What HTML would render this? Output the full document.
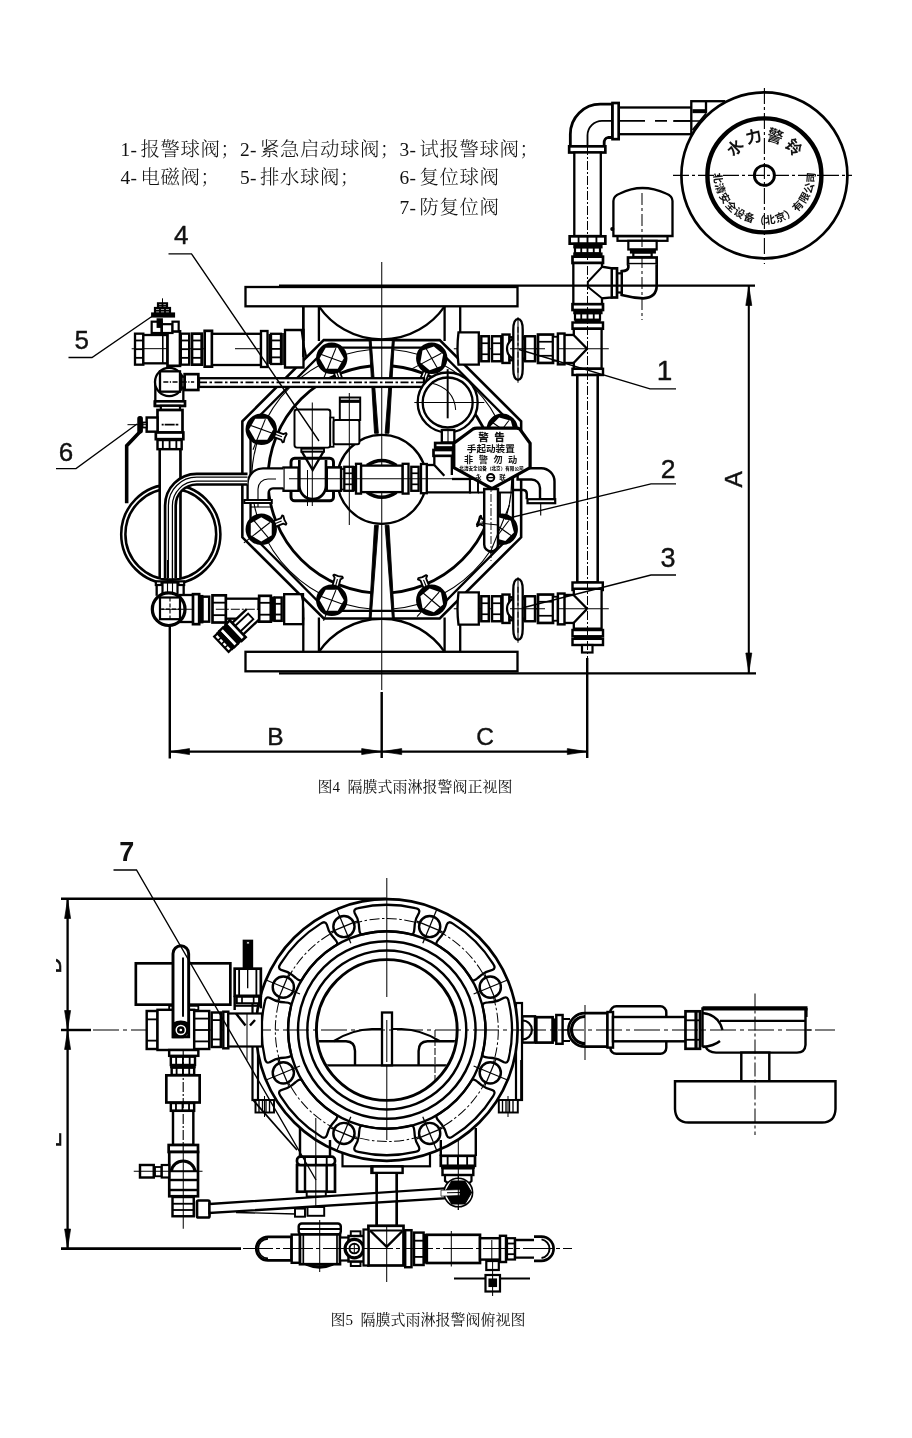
<!DOCTYPE html>
<html lang="zh-CN"><head><meta charset="utf-8"><title>隔膜式雨淋报警阀</title>
<style>html,body{margin:0;padding:0;background:#fff}body{width:912px;height:1438px;overflow:hidden}svg{display:block}</style>
</head><body>
<svg width="912" height="1438" viewBox="0 0 912 1438" fill="none" stroke="#000" stroke-linecap="butt" stroke-linejoin="miter" style="filter:grayscale(1)">
<rect x="0" y="0" width="912" height="1438" fill="#fff" stroke="none"/>
<rect x="245.5" y="287" width="272" height="19.3" stroke-width="2.32"/>
<rect x="245.5" y="651.8" width="272" height="19.5" stroke-width="2.32"/>
<line x1="303.3" y1="306.3" x2="303.3" y2="341" stroke-width="2.32"/>
<line x1="303.3" y1="617.5" x2="303.3" y2="651.8" stroke-width="2.32"/>
<line x1="318.9" y1="306.3" x2="318.9" y2="341" stroke-width="2.32"/>
<line x1="318.9" y1="617.5" x2="318.9" y2="651.8" stroke-width="2.32"/>
<line x1="444.6" y1="306.3" x2="444.6" y2="341" stroke-width="2.32"/>
<line x1="444.6" y1="617.5" x2="444.6" y2="651.8" stroke-width="2.32"/>
<line x1="460.2" y1="306.3" x2="460.2" y2="341" stroke-width="2.32"/>
<line x1="460.2" y1="617.5" x2="460.2" y2="651.8" stroke-width="2.32"/>
<path d="M318.9 306.3 A76.3 76.3 0 0 0 444.6 306.3" stroke-width="2.32"/>
<path d="M318.9 651.8 A76.3 76.3 0 0 1 444.6 651.8" stroke-width="2.32"/>
<polygon points="323.75,340.1 439.75,340.1 521.15,421.3 521.15,537.3 439.75,618.5 323.75,618.5 242.35,537.3 242.35,421.3" stroke-width="2.56" fill="#fff"/>
<circle cx="381.75" cy="479.3" r="130" stroke-width="1.12"/>
<circle cx="381.75" cy="479.3" r="113.8" stroke-width="2.81"/>
<polygon points="369.35,341.3 394.15,341.3 386.75,434.3 376.75,434.3" stroke-width="0" fill="#fff"/>
<polygon points="369.35,617.3 394.15,617.3 386.75,524.3 376.75,524.3" stroke-width="0" fill="#fff"/>
<polygon points="327.35,347.7 436.15,347.7 512.95,424.9 512.95,533.7 436.15,610.9 327.35,610.9 250.55,533.7 250.55,424.9" stroke-width="2.32"/>
<polygon points="369.15,340.3 371.15,340.3 378.35,433.3 374.55,433.3" stroke-width="0.9" fill="#000" stroke-linejoin="round"/>
<polygon points="394.35,340.3 392.35,340.3 385.15,433.3 388.95,433.3" stroke-width="0.9" fill="#000" stroke-linejoin="round"/>
<polygon points="369.15,618.3 371.15,618.3 378.35,525.3 374.55,525.3" stroke-width="0.9" fill="#000" stroke-linejoin="round"/>
<polygon points="394.35,618.3 392.35,618.3 385.15,525.3 388.95,525.3" stroke-width="0.9" fill="#000" stroke-linejoin="round"/>
<circle cx="381.75" cy="479.3" r="44.5" stroke-width="2.32" fill="#fff"/>
<polygon points="338.67,368.55 342.26,378.42 344.83,379.61 344.42,380.83 340.3,381.79 336.52,383.7 335.43,383.03 336.63,380.47 333.04,370.6" stroke-width="1.83" fill="#fff" stroke-linejoin="round"/>
<line x1="336.54" y1="371.46" x2="339.27" y2="378.97" stroke-width="1.12"/>
<circle cx="331.75" cy="358.3" r="14.6" stroke-width="2.2" fill="#000"/>
<polygon points="343.85,358.3 337.8,368.78 325.7,368.78 319.65,358.3 325.7,347.82 337.8,347.82" stroke-width="0" fill="#fff" stroke-linejoin="round"/>
<line x1="318.59" y1="353.51" x2="344.91" y2="363.09" stroke-width="1.12"/>
<line x1="335.87" y1="348.1" x2="323.51" y2="378.7" stroke-width="1.12"/>
<polygon points="430.04,370.55 426.1,380.29 427.21,382.89 426.09,383.52 422.38,381.48 418.3,380.37 417.94,379.14 420.54,378.04 424.47,368.3" stroke-width="1.83" fill="#fff" stroke-linejoin="round"/>
<line x1="426.51" y1="371.28" x2="423.51" y2="378.7" stroke-width="1.12"/>
<circle cx="431.75" cy="358.3" r="14.6" stroke-width="2.2" fill="#000"/>
<polygon points="441.02,366.08 429.65,370.22 420.38,362.44 422.48,350.52 433.85,346.38 443.12,354.16" stroke-width="0" fill="#fff" stroke-linejoin="round"/>
<line x1="424.75" y1="346.18" x2="438.75" y2="370.42" stroke-width="1.12"/>
<line x1="441.46" y1="353.14" x2="412.33" y2="368.63" stroke-width="1.12"/>
<polygon points="273.55,430.59 283.42,434.18 285.98,432.98 286.65,434.07 284.74,437.85 283.78,441.97 282.56,442.38 281.37,439.81 271.5,436.22" stroke-width="1.83" fill="#fff" stroke-linejoin="round"/>
<line x1="274.41" y1="434.09" x2="281.92" y2="436.82" stroke-width="1.12"/>
<circle cx="261.25" cy="429.3" r="14.6" stroke-width="2.2" fill="#000"/>
<polygon points="273.35,429.3 267.3,439.78 255.2,439.78 249.15,429.3 255.2,418.82 267.3,418.82" stroke-width="0" fill="#fff" stroke-linejoin="round"/>
<line x1="248.09" y1="424.51" x2="274.41" y2="434.09" stroke-width="1.12"/>
<line x1="265.37" y1="419.1" x2="253.01" y2="449.7" stroke-width="1.12"/>
<polygon points="271.25,522.02 280.99,518.09 282.09,515.49 283.32,515.85 284.43,519.93 286.47,523.64 285.84,524.76 283.24,523.65 273.5,527.59" stroke-width="1.83" fill="#fff" stroke-linejoin="round"/>
<line x1="274.23" y1="524.06" x2="281.65" y2="521.06" stroke-width="1.12"/>
<circle cx="261.25" cy="529.3" r="14.6" stroke-width="2.2" fill="#000"/>
<polygon points="271.73,535.35 261.25,541.4 250.77,535.35 250.77,523.25 261.25,517.2 271.73,523.25" stroke-width="0" fill="#fff" stroke-linejoin="round"/>
<line x1="252.25" y1="518.58" x2="270.25" y2="540.02" stroke-width="1.12"/>
<line x1="269.92" y1="522.53" x2="243.91" y2="542.84" stroke-width="1.12"/>
<polygon points="331.96,587.93 334.68,577.79 333.26,575.34 334.29,574.58 338.22,576.15 342.41,576.76 342.92,577.93 340.47,579.34 337.75,589.49" stroke-width="1.83" fill="#fff" stroke-linejoin="round"/>
<line x1="335.37" y1="586.78" x2="337.44" y2="579.05" stroke-width="1.12"/>
<circle cx="331.75" cy="600.3" r="14.6" stroke-width="2.2" fill="#000"/>
<polygon points="343.85,600.3 337.8,610.78 325.7,610.78 319.65,600.3 325.7,589.82 337.8,589.82" stroke-width="0" fill="#fff" stroke-linejoin="round"/>
<line x1="318.59" y1="595.51" x2="344.91" y2="605.09" stroke-width="1.12"/>
<line x1="335.87" y1="590.1" x2="323.51" y2="620.7" stroke-width="1.12"/>
<polygon points="424.47,590.3 420.54,580.56 417.94,579.46 418.3,578.23 422.38,577.12 426.09,575.08 427.21,575.71 426.1,578.31 430.04,588.05" stroke-width="1.83" fill="#fff" stroke-linejoin="round"/>
<line x1="426.51" y1="587.32" x2="423.51" y2="579.9" stroke-width="1.12"/>
<circle cx="431.75" cy="600.3" r="14.6" stroke-width="2.2" fill="#000"/>
<polygon points="443.12,604.44 433.85,612.22 422.48,608.08 420.38,596.16 429.65,588.38 441.02,592.52" stroke-width="0" fill="#fff" stroke-linejoin="round"/>
<line x1="421.03" y1="591.3" x2="442.47" y2="609.3" stroke-width="1.12"/>
<line x1="439.11" y1="592.13" x2="417.03" y2="616.65" stroke-width="1.12"/>
<polygon points="489.95,528.01 480.08,524.42 477.52,525.62 476.85,524.53 478.76,520.75 479.72,516.63 480.94,516.22 482.13,518.79 492,522.38" stroke-width="1.83" fill="#fff" stroke-linejoin="round"/>
<line x1="489.09" y1="524.51" x2="481.58" y2="521.78" stroke-width="1.12"/>
<circle cx="502.25" cy="529.3" r="14.6" stroke-width="2.2" fill="#000"/>
<polygon points="513.94,532.43 505.38,540.99 493.69,537.86 490.56,526.17 499.12,517.61 510.81,520.74" stroke-width="0" fill="#fff" stroke-linejoin="round"/>
<line x1="490.78" y1="521.27" x2="513.72" y2="537.33" stroke-width="1.12"/>
<line x1="508.87" y1="520.52" x2="489.01" y2="546.87" stroke-width="1.12"/>
<polygon points="492,436.22 482.13,439.81 480.94,442.38 479.72,441.97 478.76,437.85 476.85,434.07 477.52,432.98 480.08,434.18 489.95,430.59" stroke-width="1.83" fill="#fff" stroke-linejoin="round"/>
<line x1="489.09" y1="434.09" x2="481.58" y2="436.82" stroke-width="1.12"/>
<circle cx="502.25" cy="429.3" r="14.6" stroke-width="2.2" fill="#000"/>
<polygon points="513.94,432.43 505.38,440.99 493.69,437.86 490.56,426.17 499.12,417.61 510.81,420.74" stroke-width="0" fill="#fff" stroke-linejoin="round"/>
<line x1="490.78" y1="421.27" x2="513.72" y2="437.33" stroke-width="1.12"/>
<line x1="508.87" y1="420.52" x2="489.01" y2="446.87" stroke-width="1.12"/>
<line x1="381.75" y1="262" x2="381.75" y2="690" stroke-width="1.01"/>
<rect x="199" y="378.2" width="225" height="8.7" stroke-width="2.32" fill="#fff"/>
<line x1="199" y1="382.3" x2="424" y2="382.3" stroke-width="1.83" stroke-dasharray="8 2.5 2.5 2.5"/>
<circle cx="447.67" cy="402.5" r="30" stroke-width="2.32" fill="#fff"/>
<circle cx="447.67" cy="402.5" r="25" stroke-width="2.32"/>
<line x1="414.33" y1="402.5" x2="484.33" y2="402.5" stroke-width="1.12"/>
<line x1="447.67" y1="369.17" x2="447.67" y2="418.33" stroke-width="1.95"/>
<path d="M431 383 Q454.33 388.33 455.67 410" stroke-width="1.01"/>
<rect x="441.83" y="430" width="12.5" height="12.5" stroke-width="2.32" fill="#fff"/>
<line x1="448" y1="430" x2="448" y2="442.5" stroke-width="1.12"/>
<rect x="435.17" y="443" width="20.83" height="4.5" stroke-width="2.68" fill="#fff"/>
<rect x="433.5" y="450" width="19.5" height="5.83" stroke-width="2.68" fill="#fff"/>
<line x1="434.33" y1="448.67" x2="454.33" y2="448.67" stroke-width="2.93"/>
<polyline points="434.33,455.83 434.33,465 444.33,475.83" stroke-width="2.32"/>
<line x1="451.83" y1="455.83" x2="451.83" y2="475" stroke-width="2.32"/>
<path d="M367 465.5 Q381.75 455.5 396.5 465.5" stroke-width="3.46"/>
<path d="M367 492.2 Q381.75 502.2 396.5 492.2" stroke-width="3.46"/>
<rect x="361" y="465.6" width="41.7" height="26.5" stroke-width="2.32" fill="#fff"/>
<rect x="356" y="463.8" width="5" height="29.8" stroke-width="2.32" fill="#fff"/>
<rect x="402.7" y="463.8" width="5.8" height="29.8" stroke-width="2.32" fill="#fff"/>
<rect x="344.3" y="466.8" width="8.5" height="24" stroke-width="2.32" fill="#fff"/>
<line x1="344.3" y1="473.28" x2="352.8" y2="473.28" stroke-width="1.71"/>
<line x1="344.3" y1="484.32" x2="352.8" y2="484.32" stroke-width="1.71"/>
<line x1="354.5" y1="466" x2="354.5" y2="491.5" stroke-width="2.44"/>
<rect x="411.3" y="466.8" width="7.3" height="24" stroke-width="2.32" fill="#fff"/>
<line x1="411.3" y1="473.28" x2="418.6" y2="473.28" stroke-width="1.71"/>
<line x1="411.3" y1="484.32" x2="418.6" y2="484.32" stroke-width="1.71"/>
<rect x="421" y="464" width="5.8" height="29.2" stroke-width="2.32" fill="#fff"/>
<polyline points="426.8,465 434.3,465" stroke-width="2.32"/>
<polyline points="426.8,492.4 470,492.4 470,479" stroke-width="2.32"/>
<line x1="452" y1="479" x2="470" y2="479" stroke-width="2.32"/>
<rect x="326.8" y="467.5" width="14.2" height="23.3" stroke-width="2.32" fill="#fff"/>
<line x1="341" y1="469" x2="344.3" y2="469" stroke-width="1.71"/>
<line x1="341" y1="489.5" x2="344.3" y2="489.5" stroke-width="1.71"/>
<rect x="291" y="458.33" width="42.5" height="42.5" stroke-width="2.93" rx="3.67"/>
<path d="M299.33 460 L299.33 485.83 A13.33 13.33 0 0 0 326 485.83 L326 460" stroke-width="2.68"/>
<rect x="283.5" y="467.5" width="15" height="23.33" stroke-width="2.32" fill="#fff"/>
<rect x="326.83" y="467.5" width="14.17" height="23.33" stroke-width="2.32" fill="#fff"/>
<polyline points="301.83,451.67 312.67,470 323.5,451.67" stroke-width="2.32"/>
<rect x="301.33" y="448.67" width="22.67" height="3" stroke-width="1.95" fill="#fff"/>
<rect x="294.5" y="409.5" width="35.8" height="38.1" stroke-width="1.95" rx="2.5" fill="#fff"/>
<rect x="330.3" y="417.5" width="3.3" height="29.3" stroke-width="1.71" fill="#fff"/>
<rect x="333.6" y="420" width="25.8" height="24.2" stroke-width="1.95" rx="2" fill="#fff"/>
<rect x="339.8" y="397.5" width="20.4" height="22.5" stroke-width="1.95" fill="#fff"/>
<line x1="339.8" y1="401.3" x2="360.2" y2="401.3" stroke-width="3.17"/>
<line x1="312.3" y1="402.5" x2="312.3" y2="506" stroke-width="1.01"/>
<line x1="349.3" y1="393" x2="349.3" y2="525" stroke-width="1.01"/>
<line x1="307.5" y1="470" x2="307.5" y2="506" stroke-width="1.01"/>
<line x1="289" y1="478.8" x2="452" y2="478.8" stroke-width="1.01"/>
<path d="M283.5 468.3 L263 468.3 A15.5 15.5 0 0 0 247.6 484 L247.6 500 L268.6 500 L268.6 493 A4.5 4.5 0 0 1 273 488.3 L283.5 488.3 Z" stroke-width="0" fill="#fff"/>
<path d="M283.5 468.3 L263 468.3 A15.5 15.5 0 0 0 247.6 484 L247.6 500" stroke-width="2.32"/>
<path d="M283.5 488.3 L273 488.3 A4.5 4.5 0 0 0 268.6 493 L268.6 500" stroke-width="2.32"/>
<path d="M276 479 L268 479 A10 10 0 0 0 258 489 L258 507" stroke-width="1.12"/>
<rect x="244.3" y="500" width="27.5" height="3" stroke-width="1.95" fill="#fff"/>
<line x1="251" y1="507" x2="271" y2="507" stroke-width="1.12"/>
<line x1="131.67" y1="348.67" x2="206.67" y2="348.67" stroke-width="1.01"/>
<rect x="135" y="333.67" width="8.33" height="31" stroke-width="2.32" fill="#fff"/>
<line x1="135" y1="340.49" x2="143.33" y2="340.49" stroke-width="1.83"/>
<line x1="135" y1="349.17" x2="143.33" y2="349.17" stroke-width="1.83"/>
<line x1="135" y1="357.85" x2="143.33" y2="357.85" stroke-width="1.83"/>
<rect x="143.33" y="335" width="24.17" height="28.33" stroke-width="2.32" fill="#fff"/>
<line x1="163" y1="335" x2="163" y2="363.33" stroke-width="1.12"/>
<line x1="143.33" y1="348.67" x2="167.5" y2="348.67" stroke-width="1.01"/>
<rect x="180.83" y="333.67" width="8.33" height="31" stroke-width="2.32" fill="#fff"/>
<line x1="180.83" y1="340.49" x2="189.17" y2="340.49" stroke-width="1.83"/>
<line x1="180.83" y1="349.17" x2="189.17" y2="349.17" stroke-width="1.83"/>
<line x1="180.83" y1="357.85" x2="189.17" y2="357.85" stroke-width="1.83"/>
<rect x="167.5" y="331.33" width="12.5" height="34.5" stroke-width="2.68" fill="#fff"/>
<rect x="192" y="333.67" width="9.67" height="31" stroke-width="2.68" fill="#fff"/>
<line x1="192" y1="340.49" x2="201.67" y2="340.49" stroke-width="1.83"/>
<line x1="192" y1="349.17" x2="201.67" y2="349.17" stroke-width="1.83"/>
<line x1="192" y1="357.85" x2="201.67" y2="357.85" stroke-width="1.83"/>
<rect x="204.67" y="330.83" width="7.33" height="35.83" stroke-width="2.68" fill="#fff"/>
<rect x="212" y="333.8" width="49" height="31.2" stroke-width="2.32" fill="#fff"/>
<line x1="235" y1="348.7" x2="262" y2="348.7" stroke-width="1.01"/>
<rect x="261" y="331" width="6.5" height="36" stroke-width="2.32" fill="#fff"/>
<rect x="271" y="333.8" width="10" height="30.2" stroke-width="2.32" fill="#fff"/>
<line x1="271" y1="340.44" x2="281" y2="340.44" stroke-width="1.83"/>
<line x1="271" y1="348.9" x2="281" y2="348.9" stroke-width="1.83"/>
<line x1="271" y1="357.36" x2="281" y2="357.36" stroke-width="1.83"/>
<line x1="269.5" y1="334" x2="269.5" y2="364" stroke-width="1.95"/>
<path d="M285 330 L303.5 330 L303.5 367.5 L285 367.5 Z" stroke-width="2.32" fill="#fff"/>
<path d="M301.5 330 Q303 345 306.5 358" stroke-width="1.95"/>
<line x1="303.3" y1="306.3" x2="303.3" y2="357" stroke-width="2.32"/>
<line x1="283" y1="333" x2="283" y2="365" stroke-width="1.71"/>
<rect x="151.67" y="321.67" width="10" height="11.33" stroke-width="2.2" fill="#fff"/>
<rect x="161.67" y="324.17" width="10.83" height="8.83" stroke-width="2.2" fill="#fff"/>
<rect x="172.5" y="321.67" width="6.17" height="9.67" stroke-width="2.2" fill="#fff"/>
<rect x="157.5" y="319.17" width="4.5" height="7.83" stroke-width="1.83" fill="#000"/>
<rect x="152" y="313.33" width="22.17" height="3.33" stroke-width="1.83" fill="#000"/>
<rect x="155" y="308" width="15" height="5.33" stroke-width="2.2" fill="#fff"/>
<line x1="155" y1="310.67" x2="170" y2="310.67" stroke-width="1.83"/>
<line x1="160" y1="308" x2="160" y2="313.33" stroke-width="1.83"/>
<line x1="165" y1="308" x2="165" y2="313.33" stroke-width="1.83"/>
<rect x="158" y="303.33" width="9" height="4.67" stroke-width="2.2" fill="#fff"/>
<line x1="162.5" y1="303.33" x2="162.5" y2="308" stroke-width="1.83"/>
<line x1="158" y1="305.83" x2="167" y2="305.83" stroke-width="1.59"/>
<line x1="162.5" y1="298.33" x2="162.5" y2="303.67" stroke-width="1.01"/>
<line x1="162.5" y1="327.5" x2="162.5" y2="363.33" stroke-width="1.01"/>
<path d="M155.33 402 L155.33 383.33 L160 373.33" stroke-width="2.32"/>
<path d="M183.33 402 L183.33 383.33" stroke-width="2.32"/>
<circle cx="169.17" cy="382" r="14.17" stroke-width="2.32" fill="#fff"/>
<rect x="160" y="371.33" width="20" height="20.33" stroke-width="2.32" fill="#fff"/>
<rect x="181.67" y="376.67" width="3" height="10.83" stroke-width="2.2" fill="#fff"/>
<rect x="184.67" y="374.17" width="13.67" height="15.83" stroke-width="2.68" fill="#fff"/>
<line x1="163.33" y1="382" x2="194.17" y2="382" stroke-width="1.59" stroke-dasharray="5 1.5 1.2 1.5"/>
<rect x="155" y="402" width="29.67" height="3.83" stroke-width="2.68" fill="#fff"/>
<rect x="155" y="401.33" width="30" height="4.5" stroke-width="2.68" fill="#fff"/>
<rect x="160.83" y="405.83" width="19.17" height="4.17" stroke-width="2.2" fill="#fff"/>
<rect x="157.5" y="410" width="25" height="22.5" stroke-width="2.68" fill="#fff"/>
<rect x="155.83" y="432.5" width="27.5" height="6.67" stroke-width="2.68" fill="#fff"/>
<rect x="157.5" y="440" width="24.17" height="9.17" stroke-width="2.44" fill="#fff"/>
<line x1="162.82" y1="440" x2="162.82" y2="449.17" stroke-width="1.83"/>
<line x1="169.58" y1="440" x2="169.58" y2="449.17" stroke-width="1.83"/>
<line x1="176.35" y1="440" x2="176.35" y2="449.17" stroke-width="1.83"/>
<rect x="146.67" y="417.5" width="10.83" height="14.17" stroke-width="2.44" fill="#fff"/>
<rect x="142.5" y="422.5" width="4.17" height="5" stroke-width="1.83" fill="#fff"/>
<line x1="127.5" y1="424.67" x2="147" y2="424.67" stroke-width="1.01"/>
<line x1="161.67" y1="424.67" x2="178.33" y2="424.67" stroke-width="1.71" stroke-dasharray="2 1 8 0"/>
<rect x="138.17" y="417" width="3.83" height="15.5" stroke-width="1.83" rx="1.67" fill="#000"/>
<polyline points="140,431.67 126.67,445.83 126.67,503.33" stroke-width="3.56"/>
<line x1="159.8" y1="449" x2="159.8" y2="578" stroke-width="2.32"/>
<line x1="180.4" y1="449" x2="180.4" y2="578" stroke-width="2.32"/>
<circle cx="170.8" cy="534.2" r="49.6" stroke-width="2.56"/>
<circle cx="170.8" cy="534.2" r="45.4" stroke-width="2.56"/>
<rect x="160.8" y="452" width="18.6" height="126" stroke-width="0" fill="#fff"/>
<line x1="159.8" y1="449" x2="159.8" y2="578" stroke-width="2.32"/>
<line x1="180.4" y1="449" x2="180.4" y2="578" stroke-width="2.32"/>
<path d="M165.3 578 L165.3 505.5 A31.4 31.4 0 0 1 196.7 474.1 L247.5 474.1 L247.5 484.5 L196.7 484.5 A21 21 0 0 0 175.7 505.5 L175.7 578 Z" stroke-width="0" fill="#fff"/>
<path d="M165.1 578 L165.1 505.5 A31.6 31.6 0 0 1 196.7 473.9 L247.5 473.9" stroke-width="2.68"/>
<path d="M175.7 578 L175.7 505.5 A21 21 0 0 1 196.7 484.5 L247.5 484.5" stroke-width="2.68"/>
<path d="M168.4 578 L168.4 505.5 A28.3 28.3 0 0 1 196.7 477.2 L247.5 477.2" stroke-width="1.23"/>
<path d="M172.4 578 L172.4 505.5 A24.3 24.3 0 0 1 196.7 481.2 L247.5 481.2" stroke-width="1.23"/>
<rect x="155.83" y="581.33" width="28.33" height="3.67" stroke-width="2.2" fill="#fff"/>
<line x1="161.33" y1="581.33" x2="161.33" y2="585" stroke-width="1.83"/>
<line x1="178.67" y1="581.33" x2="178.67" y2="585" stroke-width="1.83"/>
<line x1="156.67" y1="585" x2="156.67" y2="595.83" stroke-width="2.32"/>
<line x1="183.67" y1="585" x2="183.67" y2="595.83" stroke-width="2.32"/>
<rect x="162.5" y="582.5" width="15" height="11.67" stroke-width="2.2" fill="#fff"/>
<line x1="167.5" y1="560" x2="167.5" y2="594.17" stroke-width="1.12"/>
<line x1="172.5" y1="560" x2="172.5" y2="594.17" stroke-width="1.12"/>
<rect x="180" y="595" width="13.33" height="27" stroke-width="2.32" fill="#fff"/>
<circle cx="168.67" cy="609.17" r="16.33" stroke-width="3.24" fill="#fff"/>
<rect x="160" y="597.5" width="20" height="21.67" stroke-width="2.2" fill="#fff"/>
<line x1="160" y1="609.17" x2="180" y2="609.17" stroke-width="1.12" stroke-dasharray="4 2"/>
<line x1="170" y1="597.5" x2="170" y2="619.17" stroke-width="1.12" stroke-dasharray="4 2"/>
<line x1="161.67" y1="609.17" x2="195" y2="609.17" stroke-width="1.01"/>
<rect x="193" y="594.17" width="6.17" height="30" stroke-width="2.68" fill="#fff"/>
<rect x="199.17" y="595.83" width="3.33" height="26.67" stroke-width="1.83" fill="#000"/>
<rect x="202.5" y="596.67" width="6.67" height="25" stroke-width="2.44" fill="#fff"/>
<rect x="225.83" y="598.67" width="32.83" height="20" stroke-width="2.32" fill="#fff"/>
<g transform="translate(258 609.5) rotate(136.5)">
<polyline points="-8,-8 30,-8 30,8 8,8" stroke-width="2.32" fill="#fff"/>
<rect x="10" y="-3.8" width="20" height="7.6" stroke-width="1.83" fill="#fff"/>
<rect x="28" y="-11.5" width="5.5" height="23" stroke-width="2.68" fill="#fff"/>
<rect x="33.5" y="-11" width="4.5" height="22" stroke-width="1.83" fill="#000"/>
<rect x="38" y="-11" width="5" height="22" stroke-width="2.2" fill="#fff"/>
<rect x="43" y="-11" width="3" height="22" stroke-width="1.83" fill="#000"/>
<rect x="46" y="-10.5" width="4.5" height="21" stroke-width="2.2" fill="#fff"/>
<line x1="46" y1="-5" x2="50.5" y2="-5" stroke-width="1.59"/>
<line x1="46" y1="0" x2="50.5" y2="0" stroke-width="1.59"/>
<line x1="46" y1="5" x2="50.5" y2="5" stroke-width="1.59"/>
</g>
<rect x="212.5" y="595.33" width="13.33" height="27.17" stroke-width="2.68" fill="#fff"/>
<line x1="212.5" y1="602.67" x2="225.83" y2="602.67" stroke-width="1.83"/>
<line x1="212.5" y1="615.16" x2="225.83" y2="615.16" stroke-width="1.83"/>
<line x1="215.83" y1="609.17" x2="260" y2="609.17" stroke-width="1.01" stroke-dasharray="9 2 2 2"/>
<rect x="259.17" y="595.83" width="11.67" height="25.83" stroke-width="2.68" fill="#fff"/>
<line x1="259.17" y1="602.81" x2="270.83" y2="602.81" stroke-width="1.83"/>
<line x1="259.17" y1="614.69" x2="270.83" y2="614.69" stroke-width="1.83"/>
<rect x="270.83" y="597.5" width="3.33" height="23.33" stroke-width="1.83" fill="#000"/>
<rect x="274.67" y="597.5" width="7" height="23.33" stroke-width="2.44" fill="#fff"/>
<line x1="274.67" y1="603.8" x2="281.67" y2="603.8" stroke-width="1.83"/>
<line x1="274.67" y1="614.53" x2="281.67" y2="614.53" stroke-width="1.83"/>
<rect x="284.17" y="594.17" width="18.83" height="30" stroke-width="2.32" fill="#fff"/>
<path d="M301 594.2 Q305.5 609 303 624.2" stroke-width="1.34"/>
<rect x="618.7" y="107.5" width="81.3" height="26.7" stroke-width="2.32" fill="#fff"/>
<line x1="620" y1="120.8" x2="705" y2="120.8" stroke-width="1.83" stroke-dasharray="25 10 12 7"/>
<rect x="691.3" y="101.2" width="32.7" height="33.1" stroke-width="2.32" fill="#fff"/>
<line x1="706" y1="101.2" x2="706" y2="113.5" stroke-width="2.32"/>
<rect x="693" y="109.8" width="12" height="2.8" stroke-width="1.12" fill="#000"/>
<line x1="706" y1="113.5" x2="692.5" y2="130" stroke-width="1.83"/>
<line x1="673" y1="121" x2="715.5" y2="121" stroke-width="1.34"/>
<circle cx="764.4" cy="175.4" r="83" stroke-width="2.68" fill="#fff"/>
<circle cx="764.4" cy="175.4" r="57" stroke-width="4.43"/>
<circle cx="764.4" cy="175.4" r="10" stroke-width="2.93"/>
<line x1="673" y1="175.4" x2="852" y2="175.4" stroke-width="1.12" stroke-dasharray="16 3 3 3"/>
<line x1="764.4" y1="88" x2="764.4" y2="264" stroke-width="1.12" stroke-dasharray="16 3 3 3"/>
<path id="bellTop" d="M 729.8 175.4 A 34.6 34.6 0 0 1 799 175.4" stroke="none"/>
<path id="bellBot" d="M 713.8 173.4 A 50.6 50.6 0 0 0 815 173.4" stroke="none"/>
<text font-family="&quot;Liberation Sans&quot;, &quot;Noto Sans CJK SC&quot;, sans-serif" font-size="16" font-weight="700" fill="#111" stroke="none" text-anchor="middle" letter-spacing="2.6"><textPath href="#bellTop" startOffset="51%">水力警铃</textPath></text>
<text font-family="&quot;Liberation Sans&quot;, &quot;Noto Sans CJK SC&quot;, sans-serif" font-size="10.6" font-weight="700" fill="#111" stroke="none" text-anchor="middle" letter-spacing="0.85"><textPath href="#bellBot" startOffset="50.5%">北清安全设备（北京）有限公司</textPath></text>
<path d="M570.33 146.67 L570.33 134.17 A30 30 0 0 1 600.33 104.17 L612.5 104.17 L612.5 137.5 L608 137.5 Q604.17 138.33 604.17 143 L604.17 146.67 Z" stroke-width="2.81" fill="#fff"/>
<path d="M612.5 120.83 L602 120.83 A14.5 14.5 0 0 0 587.5 135.33 L587.5 146.67" stroke-width="1.83"/>
<rect x="612.5" y="103" width="6.17" height="36.17" stroke-width="2.68" fill="#fff"/>
<rect x="569.17" y="146.33" width="36.17" height="6.17" stroke-width="2.68" fill="#fff"/>
<rect x="574.3" y="152.5" width="26.5" height="83.5" stroke-width="2.32" fill="#fff"/>
<line x1="587.5" y1="146" x2="587.5" y2="236" stroke-width="1.01" stroke-dasharray="9 2 2 2"/>
<path d="M613.4 236 L613.4 201 Q613.4 196 620 193.5 Q642 182.5 666 193.5 Q672.5 196 672.5 201 L672.5 236 Z" stroke-width="2.32" fill="#fff"/>
<circle cx="612.3" cy="229" r="1.5" stroke-width="1.12" fill="#000"/>
<rect x="617.5" y="236.33" width="50" height="4.5" stroke-width="2.2" fill="#fff"/>
<rect x="628.33" y="240.83" width="28.33" height="8.67" stroke-width="2.2" fill="#fff"/>
<rect x="630.83" y="249.5" width="24.17" height="3.17" stroke-width="1.83" fill="#000"/>
<rect x="633.33" y="252.67" width="18.33" height="4.33" stroke-width="2.2" fill="#fff"/>
<rect x="628" y="257.5" width="28.67" height="6.67" stroke-width="2.68" fill="#fff"/>
<path d="M628.33 264.17 L628.33 267.5 Q628 270.83 621.67 271.17 L621.67 295 Q633.33 298 643.33 298.33 Q656.67 297.5 656.67 285.83 L656.67 264.17" stroke-width="2.68" fill="#fff"/>
<rect x="617" y="273.33" width="4.67" height="19.17" stroke-width="2.2" fill="#fff"/>
<rect x="611.67" y="268.33" width="5.33" height="29.17" stroke-width="2.68" fill="#fff"/>
<line x1="642" y1="193" x2="642" y2="320" stroke-width="1.01" stroke-dasharray="12 3 3 3"/>
<rect x="569.67" y="236.33" width="35.67" height="7.33" stroke-width="2.68" fill="#fff"/>
<line x1="578.58" y1="236.33" x2="578.58" y2="243.67" stroke-width="1.83"/>
<line x1="587.5" y1="236.33" x2="587.5" y2="243.67" stroke-width="1.83"/>
<line x1="596.42" y1="236.33" x2="596.42" y2="243.67" stroke-width="1.83"/>
<rect x="574.17" y="243.67" width="27.5" height="3.83" stroke-width="1.83" fill="#000"/>
<rect x="575" y="247.5" width="25" height="5.83" stroke-width="2.2" fill="#fff"/>
<line x1="581.25" y1="247.5" x2="581.25" y2="253.33" stroke-width="1.83"/>
<line x1="587.5" y1="247.5" x2="587.5" y2="253.33" stroke-width="1.83"/>
<line x1="593.75" y1="247.5" x2="593.75" y2="253.33" stroke-width="1.83"/>
<rect x="574.17" y="253.33" width="27.5" height="3.33" stroke-width="1.83" fill="#000"/>
<rect x="572.5" y="256.67" width="30.5" height="6.33" stroke-width="2.68" fill="#fff"/>
<path d="M573.33 263 L573.33 304.17 L602 304.17 L602 298.33 L611.67 297.5 L611.67 268.33 L602 266.67 L602 263 Z" stroke-width="2.32" fill="#fff"/>
<polyline points="602,267 587.83,282 587.83,286.67 602,298.33" stroke-width="1.95"/>
<rect x="572.5" y="304.17" width="30.5" height="5.83" stroke-width="2.68" fill="#fff"/>
<rect x="574.17" y="310" width="27.5" height="3.33" stroke-width="1.83" fill="#000"/>
<rect x="575" y="313.33" width="25" height="6.33" stroke-width="2.2" fill="#fff"/>
<line x1="581.25" y1="313.33" x2="581.25" y2="319.67" stroke-width="1.83"/>
<line x1="587.5" y1="313.33" x2="587.5" y2="319.67" stroke-width="1.83"/>
<line x1="593.75" y1="313.33" x2="593.75" y2="319.67" stroke-width="1.83"/>
<rect x="575.5" y="320" width="24.5" height="2.5" stroke-width="1.12" fill="#000"/>
<rect x="572.5" y="322.5" width="30.5" height="6.3" stroke-width="2.44" fill="#fff"/>
<path d="M573.8 334.95 L573.8 328.75 L601.6 328.75 L601.6 368.75 L573.8 368.75 L573.8 362.95" stroke-width="2.32" fill="#fff"/>
<rect x="564.2" y="334.95" width="9.8" height="28" stroke-width="0" fill="#fff"/>
<line x1="564.2" y1="334.95" x2="574.5" y2="334.95" stroke-width="2.32"/>
<line x1="564.2" y1="362.95" x2="574.5" y2="362.95" stroke-width="2.32"/>
<polyline points="573.6,334.95 586.4,347.95 586.4,349.55 573.6,362.95" stroke-width="2.32"/>
<rect x="557.9" y="333.55" width="6.6" height="30.8" stroke-width="2.44" fill="#fff"/>
<rect x="572.5" y="368.8" width="30.5" height="6.2" stroke-width="2.44" fill="#fff"/>
<rect x="577.3" y="375" width="20.4" height="207.5" stroke-width="2.56" fill="#fff"/>
<rect x="572.5" y="582.5" width="30.3" height="7.5" stroke-width="2.44" fill="#fff"/>
<path d="M573.8 594.95 L573.8 588.75 L601.6 588.75 L601.6 628.75 L573.8 628.75 L573.8 622.95" stroke-width="2.32" fill="#fff"/>
<rect x="564.2" y="594.95" width="9.8" height="28" stroke-width="0" fill="#fff"/>
<line x1="564.2" y1="594.95" x2="574.5" y2="594.95" stroke-width="2.32"/>
<line x1="564.2" y1="622.95" x2="574.5" y2="622.95" stroke-width="2.32"/>
<polyline points="573.6,594.95 586.4,607.95 586.4,609.55 573.6,622.95" stroke-width="2.32"/>
<rect x="557.9" y="593.55" width="6.6" height="30.8" stroke-width="2.44" fill="#fff"/>
<rect x="573.8" y="590" width="27.4" height="40" stroke-width="0"/>
<rect x="572.5" y="630" width="30.5" height="6.3" stroke-width="2.44" fill="#fff"/>
<rect x="574.5" y="636.3" width="26.5" height="2.5" stroke-width="1.12" fill="#000"/>
<rect x="572.5" y="638.8" width="30.5" height="6.2" stroke-width="2.44" fill="#fff"/>
<rect x="582" y="645" width="10.5" height="7.5" stroke-width="2.2" fill="#fff"/>
<line x1="587.5" y1="236" x2="587.5" y2="660" stroke-width="1.01" stroke-dasharray="9 2 2 2"/>
<line x1="453.8" y1="348.75" x2="608.8" y2="348.75" stroke-width="1.01"/>
<path d="M458.5 332.45 L478.8 332.45 L478.8 364.55 L458.5 364.55 Q456.5 348.75 458.5 332.45 Z" stroke-width="2.32" fill="#fff"/>
<rect x="481.3" y="336.25" width="7.5" height="25" stroke-width="2.44" fill="#fff"/>
<line x1="481.3" y1="343.25" x2="488.8" y2="343.25" stroke-width="1.71"/>
<line x1="481.3" y1="354.25" x2="488.8" y2="354.25" stroke-width="1.71"/>
<rect x="492" y="336.25" width="9.3" height="25" stroke-width="2.44" fill="#fff"/>
<line x1="492" y1="343.25" x2="501.3" y2="343.25" stroke-width="1.71"/>
<line x1="492" y1="354.25" x2="501.3" y2="354.25" stroke-width="1.71"/>
<rect x="502.5" y="334.55" width="7" height="28.4" stroke-width="2.44" fill="#fff"/>
<rect x="509.5" y="337.25" width="25.5" height="23" stroke-width="2.32" fill="#fff"/>
<circle cx="518.3" cy="348.75" r="11.3" stroke-width="2.2" fill="#fff"/>
<rect x="525" y="336.25" width="10" height="25" stroke-width="2.44" fill="#fff"/>
<rect x="538" y="334.55" width="15" height="28.4" stroke-width="2.68" fill="#fff"/>
<line x1="538" y1="341.75" x2="553" y2="341.75" stroke-width="1.71"/>
<line x1="538" y1="355.75" x2="553" y2="355.75" stroke-width="1.71"/>
<rect x="553" y="336.75" width="4.5" height="24" stroke-width="1.83" fill="#fff"/>
<path d="M513.3 329.75 C513.3 322.75 515 319.25 518 318.95 C521 319.25 522.7 322.75 522.7 329.75 L522.7 368.75 C522.7 375.75 521 379.55 518 379.95 C515 379.55 513.3 375.75 513.3 368.75 Z" stroke-width="2.32" fill="#fff"/>
<line x1="518" y1="326.75" x2="518" y2="345.75" stroke-width="1.12" stroke-dasharray="6 2"/>
<line x1="518" y1="351.75" x2="518" y2="372.75" stroke-width="1.12" stroke-dasharray="6 2"/>
<line x1="518" y1="317.25" x2="518" y2="382.75" stroke-width="1.01"/>
<line x1="510" y1="348.75" x2="545" y2="348.75" stroke-width="1.01"/>
<line x1="453.8" y1="608.75" x2="608.8" y2="608.75" stroke-width="1.01"/>
<path d="M458.5 592.45 L478.8 592.45 L478.8 624.55 L458.5 624.55 Q456.5 608.75 458.5 592.45 Z" stroke-width="2.32" fill="#fff"/>
<rect x="481.3" y="596.25" width="7.5" height="25" stroke-width="2.44" fill="#fff"/>
<line x1="481.3" y1="603.25" x2="488.8" y2="603.25" stroke-width="1.71"/>
<line x1="481.3" y1="614.25" x2="488.8" y2="614.25" stroke-width="1.71"/>
<rect x="492" y="596.25" width="9.3" height="25" stroke-width="2.44" fill="#fff"/>
<line x1="492" y1="603.25" x2="501.3" y2="603.25" stroke-width="1.71"/>
<line x1="492" y1="614.25" x2="501.3" y2="614.25" stroke-width="1.71"/>
<rect x="502.5" y="594.55" width="7" height="28.4" stroke-width="2.44" fill="#fff"/>
<rect x="509.5" y="597.25" width="25.5" height="23" stroke-width="2.32" fill="#fff"/>
<circle cx="518.3" cy="608.75" r="11.3" stroke-width="2.2" fill="#fff"/>
<rect x="525" y="596.25" width="10" height="25" stroke-width="2.44" fill="#fff"/>
<rect x="538" y="594.55" width="15" height="28.4" stroke-width="2.68" fill="#fff"/>
<line x1="538" y1="601.75" x2="553" y2="601.75" stroke-width="1.71"/>
<line x1="538" y1="615.75" x2="553" y2="615.75" stroke-width="1.71"/>
<rect x="553" y="596.75" width="4.5" height="24" stroke-width="1.83" fill="#fff"/>
<path d="M513.3 589.75 C513.3 582.75 515 579.25 518 578.95 C521 579.25 522.7 582.75 522.7 589.75 L522.7 628.75 C522.7 635.75 521 639.55 518 639.95 C515 639.55 513.3 635.75 513.3 628.75 Z" stroke-width="2.32" fill="#fff"/>
<line x1="518" y1="586.75" x2="518" y2="605.75" stroke-width="1.12" stroke-dasharray="6 2"/>
<line x1="518" y1="611.75" x2="518" y2="632.75" stroke-width="1.12" stroke-dasharray="6 2"/>
<line x1="518" y1="577.25" x2="518" y2="642.75" stroke-width="1.01"/>
<line x1="510" y1="608.75" x2="545" y2="608.75" stroke-width="1.01"/>
<path d="M484.2 489 L484.2 544.5 A6.9 6.9 0 0 0 498 544.5 L498 489 Z" stroke-width="2.44" fill="#fff"/>
<line x1="491" y1="480" x2="491" y2="561" stroke-width="0.9" stroke-dasharray="8 2 2 2"/>
<line x1="500" y1="492" x2="500" y2="516" stroke-width="1.83"/>
<line x1="513" y1="490" x2="513" y2="514" stroke-width="1.95"/>
<line x1="479" y1="523" x2="498" y2="525" stroke-width="1.12"/>
<line x1="509.5" y1="505" x2="490" y2="553" stroke-width="1.12"/>
<line x1="481" y1="515" x2="477" y2="527" stroke-width="1.95"/>
<path d="M490 553 Q499 551 499.5 540" stroke-width="1.71"/>
<path d="M527 468.3 L541.3 468.3 A13.2 13.2 0 0 1 554.5 481.5 L554.5 499.2 L540 499.2 L540 488 A8.5 8.5 0 0 0 531.5 479.5 L517.6 479.5 L517.6 468.3 Z" stroke-width="2.44" fill="#fff"/>
<path d="M513 490 L523.5 490 Q526.8 490.3 526.8 494 L526.8 499.2" stroke-width="2.44"/>
<rect x="527.5" y="499.2" width="27.7" height="4" stroke-width="2.2" fill="#fff"/>
<line x1="540.7" y1="503.2" x2="540.7" y2="515.5" stroke-width="1.12"/>
<rect x="470" y="479" width="8" height="13.5" stroke-width="1.95" fill="#fff"/>
<line x1="478" y1="492.5" x2="484" y2="492.5" stroke-width="1.95"/>
<line x1="498" y1="492.5" x2="513" y2="492.5" stroke-width="1.95"/>
<path d="M453.8 443.3 L473 429 Q474.5 428.2 477 428.2 L516.5 428.2 Q518.5 428.2 520 429.3 L530.1 443.3 L530.1 467.6 L492 488.7 L453.8 467.6 Z" stroke-width="3.24" fill="#fff"/>
<text x="483.4" y="440.6" font-size="10.5" font-weight="900" text-anchor="middle" font-family="&quot;Liberation Sans&quot;, &quot;Noto Sans CJK SC&quot;, sans-serif" fill="#111" stroke="none">警</text>
<text x="499.4" y="440.6" font-size="10.5" font-weight="900" text-anchor="middle" font-family="&quot;Liberation Sans&quot;, &quot;Noto Sans CJK SC&quot;, sans-serif" fill="#111" stroke="none">告</text>
<text x="490.8" y="451.6" font-size="9.6" font-weight="700" text-anchor="middle" font-family="&quot;Liberation Sans&quot;, &quot;Noto Sans CJK SC&quot;, sans-serif" fill="#111" stroke="none">手起动装置</text>
<text x="468.6" y="463.2" font-size="9.2" font-weight="700" text-anchor="middle" font-family="&quot;Liberation Sans&quot;, &quot;Noto Sans CJK SC&quot;, sans-serif" fill="#111" stroke="none">非</text>
<text x="483.3" y="463.2" font-size="9.2" font-weight="700" text-anchor="middle" font-family="&quot;Liberation Sans&quot;, &quot;Noto Sans CJK SC&quot;, sans-serif" fill="#111" stroke="none">警</text>
<text x="498" y="463.2" font-size="9.2" font-weight="700" text-anchor="middle" font-family="&quot;Liberation Sans&quot;, &quot;Noto Sans CJK SC&quot;, sans-serif" fill="#111" stroke="none">勿</text>
<text x="512.7" y="463.2" font-size="9.2" font-weight="700" text-anchor="middle" font-family="&quot;Liberation Sans&quot;, &quot;Noto Sans CJK SC&quot;, sans-serif" fill="#111" stroke="none">动</text>
<text x="491.5" y="469.8" font-size="4.6" font-weight="900" text-anchor="middle" font-family="&quot;Liberation Sans&quot;, &quot;Noto Sans CJK SC&quot;, sans-serif" fill="#111" stroke="none">北清安全设备（北京）有限公司</text>
<circle cx="490.7" cy="477.6" r="3.6" stroke-width="1.95"/>
<line x1="487.6" y1="477.6" x2="493.8" y2="477.6" stroke-width="1.34"/>
<text x="478.5" y="480" font-size="6.4" font-weight="700" text-anchor="middle" font-family="&quot;Liberation Sans&quot;, &quot;Noto Sans CJK SC&quot;, sans-serif" fill="#111" stroke="none">永</text>
<text x="502.5" y="480" font-size="6.4" font-weight="700" text-anchor="middle" font-family="&quot;Liberation Sans&quot;, &quot;Noto Sans CJK SC&quot;, sans-serif" fill="#111" stroke="none">联</text>
<rect x="252.5" y="1003" width="5.5" height="97" stroke-width="2.2" fill="#fff"/>
<rect x="516" y="1003" width="6" height="97" stroke-width="2.2" fill="#fff"/>
<rect x="255.5" y="1100" width="18.5" height="12.5" stroke-width="1.95" fill="#fff"/>
<line x1="259" y1="1100" x2="259" y2="1112.5" stroke-width="1.34"/>
<line x1="262.5" y1="1100" x2="262.5" y2="1112.5" stroke-width="1.34"/>
<line x1="266" y1="1100" x2="266" y2="1112.5" stroke-width="1.34"/>
<line x1="269.5" y1="1100" x2="269.5" y2="1112.5" stroke-width="1.34"/>
<line x1="264.5" y1="1096" x2="264.5" y2="1117" stroke-width="1.01"/>
<rect x="498.8" y="1100" width="19" height="12.5" stroke-width="1.95" fill="#fff"/>
<line x1="502.5" y1="1100" x2="502.5" y2="1112.5" stroke-width="1.34"/>
<line x1="506" y1="1100" x2="506" y2="1112.5" stroke-width="1.34"/>
<line x1="509.5" y1="1100" x2="509.5" y2="1112.5" stroke-width="1.34"/>
<line x1="513" y1="1100" x2="513" y2="1112.5" stroke-width="1.34"/>
<line x1="508" y1="1096" x2="508" y2="1117" stroke-width="1.01"/>
<polyline points="253,1100 297,1150" stroke-width="1.71"/>
<polyline points="521,1060 521,1100" stroke-width="1.71"/>
<rect x="342.5" y="1148" width="87.5" height="18.3" stroke-width="2.2" fill="#fff"/>
<rect x="371.3" y="1166.3" width="31.2" height="6.7" stroke-width="2.2" fill="#fff"/>
<circle cx="386.8" cy="1030" r="130.8" stroke-width="2.68" fill="#fff"/>
<circle cx="386.8" cy="1030" r="111.5" stroke-width="1.01" stroke-dasharray="10 2.5 2.5 2.5"/>
<circle cx="386.8" cy="1030" r="98.7" stroke-width="2.44"/>
<circle cx="386.8" cy="1030" r="88.8" stroke-width="2.44"/>
<circle cx="386.8" cy="1030" r="79.5" stroke-width="2.44"/>
<circle cx="386.8" cy="1030" r="70.4" stroke-width="2.93"/>
<g id="slots" transform="translate(386.8 1030)" stroke-width="2.3" stroke-linejoin="round">
<path transform="rotate(0)" d="M-28.5 -121.91 A125.2 125.2 0 0 1 28.5 -121.91 Q33.8 -121 32.2 -117.2 Q28.6 -111.5 28 -106 L27.6 -101.5 Q27.3 -94.85 24 -95.74 A98.7 98.7 0 0 0 -24 -95.74 Q-27.3 -94.85 -27.6 -101.5 L-28 -106 Q-28.6 -111.5 -32.2 -117.2 Q-33.8 -121 -28.5 -121.91 Z"/>
<path transform="rotate(45)" d="M-28.5 -121.91 A125.2 125.2 0 0 1 28.5 -121.91 Q33.8 -121 32.2 -117.2 Q28.6 -111.5 28 -106 L27.6 -101.5 Q27.3 -94.85 24 -95.74 A98.7 98.7 0 0 0 -24 -95.74 Q-27.3 -94.85 -27.6 -101.5 L-28 -106 Q-28.6 -111.5 -32.2 -117.2 Q-33.8 -121 -28.5 -121.91 Z"/>
<path transform="rotate(90)" d="M-28.5 -121.91 A125.2 125.2 0 0 1 28.5 -121.91 Q33.8 -121 32.2 -117.2 Q28.6 -111.5 28 -106 L27.6 -101.5 Q27.3 -94.85 24 -95.74 A98.7 98.7 0 0 0 -24 -95.74 Q-27.3 -94.85 -27.6 -101.5 L-28 -106 Q-28.6 -111.5 -32.2 -117.2 Q-33.8 -121 -28.5 -121.91 Z"/>
<path transform="rotate(135)" d="M-28.5 -121.91 A125.2 125.2 0 0 1 28.5 -121.91 Q33.8 -121 32.2 -117.2 Q28.6 -111.5 28 -106 L27.6 -101.5 Q27.3 -94.85 24 -95.74 A98.7 98.7 0 0 0 -24 -95.74 Q-27.3 -94.85 -27.6 -101.5 L-28 -106 Q-28.6 -111.5 -32.2 -117.2 Q-33.8 -121 -28.5 -121.91 Z"/>
<path transform="rotate(180)" d="M-28.5 -121.91 A125.2 125.2 0 0 1 28.5 -121.91 Q33.8 -121 32.2 -117.2 Q28.6 -111.5 28 -106 L27.6 -101.5 Q27.3 -94.85 24 -95.74 A98.7 98.7 0 0 0 -24 -95.74 Q-27.3 -94.85 -27.6 -101.5 L-28 -106 Q-28.6 -111.5 -32.2 -117.2 Q-33.8 -121 -28.5 -121.91 Z"/>
<path transform="rotate(225)" d="M-28.5 -121.91 A125.2 125.2 0 0 1 28.5 -121.91 Q33.8 -121 32.2 -117.2 Q28.6 -111.5 28 -106 L27.6 -101.5 Q27.3 -94.85 24 -95.74 A98.7 98.7 0 0 0 -24 -95.74 Q-27.3 -94.85 -27.6 -101.5 L-28 -106 Q-28.6 -111.5 -32.2 -117.2 Q-33.8 -121 -28.5 -121.91 Z"/>
<path transform="rotate(270)" d="M-28.5 -121.91 A125.2 125.2 0 0 1 28.5 -121.91 Q33.8 -121 32.2 -117.2 Q28.6 -111.5 28 -106 L27.6 -101.5 Q27.3 -94.85 24 -95.74 A98.7 98.7 0 0 0 -24 -95.74 Q-27.3 -94.85 -27.6 -101.5 L-28 -106 Q-28.6 -111.5 -32.2 -117.2 Q-33.8 -121 -28.5 -121.91 Z"/>
<path transform="rotate(315)" d="M-28.5 -121.91 A125.2 125.2 0 0 1 28.5 -121.91 Q33.8 -121 32.2 -117.2 Q28.6 -111.5 28 -106 L27.6 -101.5 Q27.3 -94.85 24 -95.74 A98.7 98.7 0 0 0 -24 -95.74 Q-27.3 -94.85 -27.6 -101.5 L-28 -106 Q-28.6 -111.5 -32.2 -117.2 Q-33.8 -121 -28.5 -121.91 Z"/>
</g>
<circle cx="490.27" cy="1072.86" r="10.6" stroke-width="2.44" fill="#fff"/>
<line x1="473.64" y1="1065.97" x2="506.9" y2="1079.75" stroke-width="1.23"/>
<line x1="495.63" y1="1059.93" x2="484.92" y2="1085.79" stroke-width="1.23"/>
<circle cx="429.66" cy="1133.47" r="10.6" stroke-width="2.44" fill="#fff"/>
<line x1="422.77" y1="1116.84" x2="436.55" y2="1150.1" stroke-width="1.23"/>
<line x1="442.59" y1="1128.12" x2="416.73" y2="1138.83" stroke-width="1.23"/>
<circle cx="343.94" cy="1133.47" r="10.6" stroke-width="2.44" fill="#fff"/>
<line x1="350.83" y1="1116.84" x2="337.05" y2="1150.1" stroke-width="1.23"/>
<line x1="356.87" y1="1138.83" x2="331.01" y2="1128.12" stroke-width="1.23"/>
<circle cx="283.33" cy="1072.86" r="10.6" stroke-width="2.44" fill="#fff"/>
<line x1="299.96" y1="1065.97" x2="266.7" y2="1079.75" stroke-width="1.23"/>
<line x1="288.68" y1="1085.79" x2="277.97" y2="1059.93" stroke-width="1.23"/>
<circle cx="283.33" cy="987.14" r="10.6" stroke-width="2.44" fill="#fff"/>
<line x1="299.96" y1="994.03" x2="266.7" y2="980.25" stroke-width="1.23"/>
<line x1="277.97" y1="1000.07" x2="288.68" y2="974.21" stroke-width="1.23"/>
<circle cx="343.94" cy="926.53" r="10.6" stroke-width="2.44" fill="#fff"/>
<line x1="350.83" y1="943.16" x2="337.05" y2="909.9" stroke-width="1.23"/>
<line x1="331.01" y1="931.88" x2="356.87" y2="921.17" stroke-width="1.23"/>
<circle cx="429.66" cy="926.53" r="10.6" stroke-width="2.44" fill="#fff"/>
<line x1="422.77" y1="943.16" x2="436.55" y2="909.9" stroke-width="1.23"/>
<line x1="416.73" y1="921.17" x2="442.59" y2="931.88" stroke-width="1.23"/>
<circle cx="490.27" cy="987.14" r="10.6" stroke-width="2.44" fill="#fff"/>
<line x1="473.64" y1="994.03" x2="506.9" y2="980.25" stroke-width="1.23"/>
<line x1="484.92" y1="974.21" x2="495.63" y2="1000.07" stroke-width="1.23"/>
<clipPath id="bore"><circle cx="386.8" cy="1030" r="69"/></clipPath>
<g clip-path="url(#bore)">
<line x1="310" y1="1065.3" x2="460" y2="1065.3" stroke-width="2.32"/>
<path d="M333.5 1041.2 Q352 1029.5 372 1029 L401.5 1029 Q421 1029.5 440 1041.2" stroke-width="2.2"/>
<path d="M300 1041.2 L346 1041.2 Q355 1041.5 355 1051 L355 1065" stroke-width="2.44"/>
<path d="M470 1041.2 L427.5 1041.2 Q418.6 1041.5 418.6 1051 L418.6 1065" stroke-width="2.44"/>
</g>
<rect x="382" y="1012.5" width="10" height="52.8" stroke-width="2.32" fill="#fff"/>
<line x1="386.8" y1="1020" x2="386.8" y2="1062" stroke-width="1.01"/>
<line x1="435" y1="1030" x2="435" y2="1080" stroke-width="1.01" stroke-dasharray="7 2"/>
<line x1="386.8" y1="878" x2="386.8" y2="997" stroke-width="1.01"/>
<line x1="386.8" y1="1066" x2="386.8" y2="1140" stroke-width="1.01"/>
<line x1="93" y1="1030" x2="835" y2="1030" stroke-width="1.01" stroke-dasharray="26 4 4 4"/>
<rect x="135.83" y="963.33" width="94.5" height="41.33" stroke-width="2.68" fill="#fff"/>
<rect x="169.17" y="1005.83" width="3.83" height="4.17" stroke-width="1.83" fill="#fff"/>
<rect x="188.67" y="1005.83" width="9.67" height="4.17" stroke-width="1.83" fill="#fff"/>
<rect x="146.7" y="1011" width="10.8" height="38" stroke-width="2.44" fill="#fff"/>
<line x1="146.7" y1="1019.36" x2="157.5" y2="1019.36" stroke-width="1.83"/>
<line x1="146.7" y1="1040.64" x2="157.5" y2="1040.64" stroke-width="1.83"/>
<rect x="157.5" y="1009.8" width="36.7" height="40.2" stroke-width="2.44" fill="#fff"/>
<rect x="194.2" y="1011" width="15" height="38" stroke-width="2.44" fill="#fff"/>
<line x1="194.2" y1="1018.6" x2="209.2" y2="1018.6" stroke-width="1.83"/>
<line x1="194.2" y1="1030" x2="209.2" y2="1030" stroke-width="1.83"/>
<line x1="194.2" y1="1041.4" x2="209.2" y2="1041.4" stroke-width="1.83"/>
<rect x="211.7" y="1012.5" width="9.1" height="34.5" stroke-width="2.44" fill="#fff"/>
<line x1="211.7" y1="1020.09" x2="220.8" y2="1020.09" stroke-width="1.83"/>
<line x1="211.7" y1="1039.41" x2="220.8" y2="1039.41" stroke-width="1.83"/>
<rect x="223.3" y="1011.7" width="5" height="36.6" stroke-width="2.44" fill="#fff"/>
<rect x="228.3" y="1013.5" width="33.7" height="33" stroke-width="2.2" fill="#fff"/>
<polyline points="236,1013.5 245.5,1025.5" stroke-width="2.44"/>
<polyline points="255,1020 250,1025.5" stroke-width="2.44"/>
<line x1="247" y1="1013" x2="247" y2="1060" stroke-width="1.01"/>
<rect x="243.33" y="940.33" width="9.17" height="28.33" stroke-width="1.34" fill="#000"/>
<rect x="246.67" y="941.67" width="2.67" height="2.33" stroke-width="0.9" fill="#fff"/>
<rect x="234.67" y="968.67" width="26.17" height="27.17" stroke-width="2.68" fill="#fff"/>
<line x1="239.12" y1="968.67" x2="239.12" y2="995.83" stroke-width="1.83"/>
<line x1="256.38" y1="968.67" x2="256.38" y2="995.83" stroke-width="1.83"/>
<line x1="247.67" y1="968.67" x2="247.67" y2="988.33" stroke-width="1.34"/>
<rect x="236.67" y="996.67" width="22.5" height="6.67" stroke-width="2.2" fill="#fff"/>
<line x1="242" y1="996.67" x2="242" y2="1003.33" stroke-width="1.71"/>
<line x1="253.67" y1="996.67" x2="253.67" y2="1003.33" stroke-width="1.71"/>
<polyline points="234.67,995.83 234.67,1010" stroke-width="2.44"/>
<polyline points="260.83,995.83 260.83,1008.33" stroke-width="2.44"/>
<line x1="234.67" y1="1005.83" x2="260" y2="1005.83" stroke-width="1.95"/>
<path d="M173 1036.67 L173 953.67 A7.83 7.83 0 0 1 188.67 953.67 L188.67 1036.67 Z" stroke-width="2.93" fill="#fff"/>
<line x1="183" y1="957.5" x2="183" y2="1016.67" stroke-width="1.95"/>
<path d="M173 1023.33 Q180.83 1019.17 188.67 1023.33 L188.67 1031.67 L183.33 1037.5 L173 1037.5 Z" stroke-width="1.34" fill="#000"/>
<circle cx="180.83" cy="1030" r="4.6" stroke="#fff" stroke-width="1.5" fill="#000"/>
<circle cx="180.83" cy="1030" r="1.3" stroke="none" fill="#fff"/>
<rect x="169.17" y="1050" width="29.17" height="5.83" stroke-width="2.44" fill="#fff"/>
<rect x="170.83" y="1056.67" width="24.17" height="8.33" stroke-width="2.44" fill="#fff"/>
<line x1="176.15" y1="1056.67" x2="176.15" y2="1065" stroke-width="1.83"/>
<line x1="182.92" y1="1056.67" x2="182.92" y2="1065" stroke-width="1.83"/>
<line x1="189.68" y1="1056.67" x2="189.68" y2="1065" stroke-width="1.83"/>
<rect x="170.83" y="1065" width="24.17" height="2.67" stroke-width="1.34" fill="#000"/>
<rect x="171.67" y="1067.67" width="22.5" height="7.33" stroke-width="2.44" fill="#fff"/>
<line x1="176.62" y1="1067.67" x2="176.62" y2="1075" stroke-width="1.83"/>
<line x1="182.92" y1="1067.67" x2="182.92" y2="1075" stroke-width="1.83"/>
<line x1="189.22" y1="1067.67" x2="189.22" y2="1075" stroke-width="1.83"/>
<rect x="166.33" y="1075.33" width="33.33" height="27.17" stroke-width="2.68" fill="#fff"/>
<rect x="170.83" y="1103" width="23.33" height="7.83" stroke-width="2.44" fill="#fff"/>
<line x1="175.97" y1="1103" x2="175.97" y2="1110.83" stroke-width="1.83"/>
<line x1="182.5" y1="1103" x2="182.5" y2="1110.83" stroke-width="1.83"/>
<line x1="189.03" y1="1103" x2="189.03" y2="1110.83" stroke-width="1.83"/>
<rect x="173" y="1110.83" width="20.33" height="34.17" stroke-width="2.44" fill="#fff"/>
<rect x="168.67" y="1145" width="29.33" height="7" stroke-width="2.68" fill="#fff"/>
<line x1="183.2" y1="1050" x2="183.2" y2="1152" stroke-width="1.12" stroke-dasharray="10 2 2 2"/>
<rect x="169.25" y="1152" width="28.75" height="44.25" stroke-width="2.68" fill="#fff"/>
<path d="M171.25 1171.25 A12 12 0 0 1 195 1171.25" stroke-width="3.17"/>
<line x1="169.25" y1="1171.25" x2="198" y2="1171.25" stroke-width="1.95"/>
<line x1="169.25" y1="1180" x2="198" y2="1180" stroke-width="2.44"/>
<line x1="169.25" y1="1190" x2="198" y2="1190" stroke-width="2.44"/>
<rect x="161.75" y="1165" width="7.5" height="12.5" stroke-width="2.2" fill="#fff"/>
<rect x="155" y="1167" width="6.25" height="9.25" stroke-width="1.83" fill="#fff"/>
<rect x="140" y="1165" width="13.75" height="12.5" stroke-width="2.44" fill="#fff"/>
<line x1="133.75" y1="1171.25" x2="202.5" y2="1171.25" stroke-width="1.01"/>
<rect x="172.5" y="1197" width="21.25" height="19.25" stroke-width="2.44" fill="#fff"/>
<line x1="172.5" y1="1203.75" x2="193.75" y2="1203.75" stroke-width="1.83"/>
<line x1="172.5" y1="1210" x2="193.75" y2="1210" stroke-width="1.83"/>
<rect x="197" y="1200.5" width="12.5" height="17" stroke-width="2.68" rx="1.5" fill="#fff"/>
<line x1="183.25" y1="1152" x2="183.25" y2="1228.75" stroke-width="1.01"/>
<rect x="376.7" y="1172.5" width="20.1" height="53.5" stroke-width="2.44" fill="#fff"/>
<rect x="372.5" y="1166.6" width="30" height="6.2" stroke-width="2.2" fill="#fff"/>
<line x1="300" y1="1128" x2="300" y2="1156" stroke-width="2.44"/>
<line x1="330" y1="1140" x2="330" y2="1156" stroke-width="2.44"/>
<rect x="297" y="1165" width="38" height="26.7" stroke-width="2.68" fill="#fff"/>
<line x1="305" y1="1165" x2="305" y2="1191.7" stroke-width="2.44"/>
<line x1="326.7" y1="1165" x2="326.7" y2="1191.7" stroke-width="2.44"/>
<rect x="297" y="1156.7" width="38" height="8.3" stroke-width="2.68" rx="3.5" fill="#fff"/>
<line x1="305" y1="1156.7" x2="305" y2="1165" stroke-width="1.83"/>
<line x1="315.8" y1="1156.7" x2="315.8" y2="1165" stroke-width="1.83"/>
<line x1="326.7" y1="1156.7" x2="326.7" y2="1165" stroke-width="1.83"/>
<rect x="306.7" y="1191.7" width="19.1" height="4.8" stroke-width="1.95" fill="#fff"/>
<line x1="315.8" y1="1118" x2="315.8" y2="1207" stroke-width="1.01"/>
<line x1="440.8" y1="1140" x2="440.8" y2="1156" stroke-width="2.44"/>
<line x1="475.8" y1="1128" x2="475.8" y2="1156" stroke-width="2.44"/>
<rect x="440.8" y="1155.8" width="34.2" height="10" stroke-width="2.68" fill="#fff"/>
<line x1="447.64" y1="1155.8" x2="447.64" y2="1165.8" stroke-width="1.83"/>
<line x1="457.9" y1="1155.8" x2="457.9" y2="1165.8" stroke-width="1.83"/>
<line x1="467.13" y1="1155.8" x2="467.13" y2="1165.8" stroke-width="1.83"/>
<rect x="441.7" y="1165.8" width="32.5" height="2.5" stroke-width="1.12" fill="#000"/>
<rect x="442.5" y="1168.3" width="30.8" height="6.7" stroke-width="2.44" fill="#fff"/>
<polyline points="445,1175 445,1181 452,1186" stroke-width="2.2"/>
<polyline points="471.5,1175 471.5,1181 466,1186" stroke-width="2.2"/>
<line x1="458.3" y1="1140" x2="458.3" y2="1210" stroke-width="1.01"/>
<path d="M209.5 1204 L447 1188.2 L447 1198.2 L209.5 1213 Z" stroke-width="2.32" fill="#fff"/>
<line x1="236" y1="1212.5" x2="296" y2="1214" stroke-width="1.34"/>
<rect x="295" y="1208.6" width="10" height="8.1" stroke-width="1.95" fill="#fff"/>
<rect x="307.5" y="1207" width="16.7" height="8.8" stroke-width="1.95" fill="#fff"/>
<line x1="376.7" y1="1172.5" x2="376.7" y2="1226" stroke-width="2.44"/>
<line x1="396.8" y1="1172.5" x2="396.8" y2="1226" stroke-width="2.44"/>
<line x1="315.8" y1="1196" x2="315.8" y2="1207" stroke-width="1.01"/>
<circle cx="458.3" cy="1192.5" r="14.3" stroke-width="1.59" fill="#fff"/>
<polygon points="471.5,1192.5 464.9,1203.93 451.7,1203.93 445.1,1192.5 451.7,1181.07 464.9,1181.07" stroke-width="1.12" fill="#000"/>
<path d="M441 1190.2 L460 1189.6 L460 1195.4 L441 1196.2 Z" stroke-width="0.67" fill="#fff"/>
<line x1="447" y1="1192.8" x2="461" y2="1192.5" stroke-width="1.12"/>
<line x1="458.3" y1="1175" x2="458.3" y2="1210" stroke-width="1.01"/>
<path d="M291.5 1236.8 L268 1236.8 A11.8 11.8 0 0 0 268 1260.4 L291.5 1260.4 Z" stroke-width="2.68" fill="#fff"/>
<path d="M268 1238.8 A9.8 9.8 0 0 0 268 1258.4" stroke-width="1.71"/>
<rect x="291.7" y="1234.6" width="8.3" height="28.2" stroke-width="2.44" fill="#fff"/>
<rect x="298.7" y="1223.5" width="42.1" height="10.9" stroke-width="2.44" rx="3" fill="#fff"/>
<line x1="298.7" y1="1229" x2="340.8" y2="1229" stroke-width="1.83"/>
<path d="M306 1264 Q319.7 1270 333 1264" stroke-width="3.24"/>
<rect x="300" y="1234.4" width="40" height="29.8" stroke-width="2.68" fill="#fff"/>
<line x1="303.3" y1="1234.4" x2="303.3" y2="1264.2" stroke-width="1.71"/>
<line x1="337" y1="1234.4" x2="337" y2="1264.2" stroke-width="1.71"/>
<line x1="319.7" y1="1220" x2="319.7" y2="1272" stroke-width="1.01"/>
<rect x="340" y="1237.5" width="9.5" height="23" stroke-width="2.2" fill="#fff"/>
<rect x="350.8" y="1231.3" width="9.7" height="4.7" stroke-width="1.95" fill="#fff"/>
<rect x="350.8" y="1261.5" width="9.7" height="4.5" stroke-width="1.95" fill="#fff"/>
<rect x="348.5" y="1236" width="16.5" height="25.5" stroke-width="2.44" fill="#fff"/>
<circle cx="354.3" cy="1248.6" r="9.2" stroke-width="3.17" fill="#fff"/>
<circle cx="354.3" cy="1248.6" r="4.8" stroke-width="1.95"/>
<line x1="349" y1="1248.6" x2="360" y2="1248.6" stroke-width="1.01"/>
<line x1="354.3" y1="1243" x2="354.3" y2="1254" stroke-width="1.01"/>
<rect x="368.4" y="1225.8" width="35.1" height="39.7" stroke-width="2.68" fill="#fff"/>
<rect x="363.5" y="1229.5" width="4.9" height="36" stroke-width="2.2" fill="#fff"/>
<polyline points="370,1230.5 386.7,1246.8 402.5,1231" stroke-width="2.44"/>
<line x1="370" y1="1230.5" x2="402.5" y2="1230.5" stroke-width="1.95"/>
<line x1="386.7" y1="1226" x2="386.7" y2="1282" stroke-width="1.01"/>
<rect x="405.2" y="1230.2" width="6.3" height="37" stroke-width="2.44" fill="#fff"/>
<rect x="414" y="1232.6" width="9.6" height="32.4" stroke-width="2.44" fill="#fff"/>
<line x1="414" y1="1240.7" x2="423.6" y2="1240.7" stroke-width="1.83"/>
<line x1="414" y1="1256.9" x2="423.6" y2="1256.9" stroke-width="1.83"/>
<rect x="423.6" y="1234.5" width="3" height="28.5" stroke-width="1.12" fill="#000"/>
<rect x="426.8" y="1234.8" width="53.2" height="28.2" stroke-width="2.68" fill="#fff"/>
<rect x="480" y="1238.2" width="20" height="21.4" stroke-width="2.44" fill="#fff"/>
<rect x="500" y="1235.8" width="6" height="26.2" stroke-width="2.44" fill="#fff"/>
<rect x="507" y="1238.2" width="8" height="21.3" stroke-width="2.2" fill="#fff"/>
<line x1="507" y1="1243.53" x2="515" y2="1243.53" stroke-width="1.83"/>
<line x1="507" y1="1254.17" x2="515" y2="1254.17" stroke-width="1.83"/>
<path d="M515 1240 L541 1240 L541 1257.6 L515 1257.6 Z" stroke-width="2.44" fill="#fff"/>
<path d="M534 1236.6 L541.5 1236.6 A12.1 12.1 0 0 1 541.5 1260.8 L534 1260.8" stroke-width="2.68" fill="#fff"/>
<path d="M541.5 1239.4 A9.4 9.4 0 0 1 541.5 1258" stroke-width="1.95"/>
<line x1="451.3" y1="1231" x2="451.3" y2="1266.5" stroke-width="1.01"/>
<line x1="491.8" y1="1240" x2="491.8" y2="1262" stroke-width="1.01"/>
<rect x="486.3" y="1261" width="12.5" height="9" stroke-width="2.2" fill="#fff"/>
<line x1="454" y1="1278.4" x2="530" y2="1278.4" stroke-width="1.95"/>
<rect x="485.5" y="1275" width="14.5" height="16.5" stroke-width="2.2" fill="#fff"/>
<rect x="489" y="1279" width="7.5" height="7.5" stroke-width="1.12" fill="#000"/>
<line x1="492.6" y1="1262" x2="492.6" y2="1296" stroke-width="1.01"/>
<line x1="243" y1="1248.6" x2="572" y2="1248.6" stroke-width="1.01" stroke-dasharray="30 3 4 3"/>
<rect x="522.4" y="1016.3" width="12.6" height="26.3" stroke-width="2.44" fill="#fff"/>
<path d="M522.4 1020.5 A7 7 0 0 1 522.4 1039.5" stroke-width="2.2"/>
<rect x="536.3" y="1017.2" width="16.3" height="25.4" stroke-width="2.68" fill="#fff"/>
<rect x="553" y="1019" width="3" height="22" stroke-width="1.12" fill="#000"/>
<rect x="556.3" y="1015" width="6.3" height="28.8" stroke-width="2.44" fill="#fff"/>
<path d="M607.5 1013.2 L585 1013.2 A16.7 16.7 0 0 0 585 1046.6 L607.5 1046.6 Z" stroke-width="2.68" fill="#fff"/>
<path d="M585 1016.5 A13.5 13.5 0 0 0 585 1043.5" stroke-width="3.17"/>
<line x1="562.6" y1="1019" x2="570" y2="1019" stroke-width="1.95"/>
<line x1="562.6" y1="1041" x2="570" y2="1041" stroke-width="1.95"/>
<line x1="585" y1="1005" x2="585" y2="1060" stroke-width="1.01"/>
<rect x="610.3" y="1006.3" width="56" height="47.5" stroke-width="2.44" rx="6" fill="#fff"/>
<rect x="607.5" y="1012" width="5.5" height="35.6" stroke-width="2.44" fill="#fff"/>
<rect x="613" y="1017" width="73" height="24.3" stroke-width="2.44" fill="#fff"/>
<rect x="685.5" y="1011.3" width="14.5" height="37.5" stroke-width="2.68" fill="#fff"/>
<line x1="685.5" y1="1020.3" x2="700" y2="1020.3" stroke-width="1.83"/>
<line x1="685.5" y1="1039.8" x2="700" y2="1039.8" stroke-width="1.83"/>
<line x1="696" y1="1011.3" x2="696" y2="1048.8" stroke-width="3.17"/>
<path d="M702.5 1008.5 L805.5 1008.5 L805.5 1045 Q805 1052.6 797 1052.6 L716 1052.6 Q708 1052 706 1047.5 L702.5 1046 Z" stroke-width="2.44" fill="#fff"/>
<line x1="702.5" y1="1008.4" x2="807.5" y2="1008.4" stroke-width="4.32"/>
<line x1="806.5" y1="1008" x2="806.5" y2="1017" stroke-width="2.2"/>
<line x1="720" y1="1020.8" x2="805.5" y2="1020.8" stroke-width="2.32"/>
<path d="M702.5 1013 Q719 1015 722.5 1030" stroke-width="2.32"/>
<path d="M702.5 1047 Q714 1046 720 1041" stroke-width="2.32"/>
<rect x="741.3" y="1052.6" width="28" height="28.7" stroke-width="2.44" fill="#fff"/>
<path d="M675 1081.3 L835.5 1081.3 L835.5 1109 Q835 1122.5 822 1122.5 L688.5 1122.5 Q675.5 1122.5 675 1109 Z" stroke-width="2.44" fill="#fff"/>
<line x1="755" y1="993.5" x2="755" y2="1135" stroke-width="1.01" stroke-dasharray="14 3 3 3"/>
<line x1="520" y1="1030" x2="815" y2="1030" stroke-width="1.01" stroke-dasharray="26 4 4 4"/>
<text x="120.5 130.5 140.5 160.5 180.5 200.5 220.5" y="156.2" font-size="19.4" font-family="&quot;Liberation Serif&quot;, &quot;Noto Serif CJK SC&quot;, serif" fill="#111" stroke="none" font-weight="300" >1-报警球阀；</text>
<text x="240 250 260 280 300 320 340 360 380" y="156.2" font-size="19.4" font-family="&quot;Liberation Serif&quot;, &quot;Noto Serif CJK SC&quot;, serif" fill="#111" stroke="none" font-weight="300" >2-紧急启动球阀；</text>
<text x="399.5 409.5 419.5 439.5 459.5 479.5 499.5 519.5" y="156.2" font-size="19.4" font-family="&quot;Liberation Serif&quot;, &quot;Noto Serif CJK SC&quot;, serif" fill="#111" stroke="none" font-weight="300" >3-试报警球阀；</text>
<text x="120.5 130.5 140.5 160.5 180.5 200.5" y="184.3" font-size="19.4" font-family="&quot;Liberation Serif&quot;, &quot;Noto Serif CJK SC&quot;, serif" fill="#111" stroke="none" font-weight="300" >4-电磁阀；</text>
<text x="240 250 260 280 300 320 340" y="184.3" font-size="19.4" font-family="&quot;Liberation Serif&quot;, &quot;Noto Serif CJK SC&quot;, serif" fill="#111" stroke="none" font-weight="300" >5-排水球阀；</text>
<text x="399.5 409.5 419.5 439.5 459.5 479.5" y="184.3" font-size="19.4" font-family="&quot;Liberation Serif&quot;, &quot;Noto Serif CJK SC&quot;, serif" fill="#111" stroke="none" font-weight="300" >6-复位球阀</text>
<text x="399.5 409.5 419.5 439.5 459.5 479.5" y="213.8" font-size="19.4" font-family="&quot;Liberation Serif&quot;, &quot;Noto Serif CJK SC&quot;, serif" fill="#111" stroke="none" font-weight="300" >7-防复位阀</text>
<text x="317.5 332.5 340 347.5 362.5 377.5 392.5 407.5 422.5 437.5 452.5 467.5 482.5 497.5" y="792" font-size="15" font-family="&quot;Liberation Serif&quot;, &quot;Noto Serif CJK SC&quot;, serif" fill="#111" stroke="none" >图4 隔膜式雨淋报警阀正视图</text>
<text x="330.5 345.5 353 360.5 375.5 390.5 405.5 420.5 435.5 450.5 465.5 480.5 495.5 510.5" y="1325" font-size="15" font-family="&quot;Liberation Serif&quot;, &quot;Noto Serif CJK SC&quot;, serif" fill="#111" stroke="none" >图5 隔膜式雨淋报警阀俯视图</text>
<text x="181.3" y="244" font-size="26" font-family="&quot;Liberation Sans&quot;, &quot;Noto Sans CJK SC&quot;, sans-serif" fill="#111" stroke="#111" stroke-width="0.4" stroke-linejoin="round" text-anchor="middle" >4</text>
<text x="81.7" y="349.3" font-size="26" font-family="&quot;Liberation Sans&quot;, &quot;Noto Sans CJK SC&quot;, sans-serif" fill="#111" stroke="#111" stroke-width="0.4" stroke-linejoin="round" text-anchor="middle" >5</text>
<text x="66" y="461.2" font-size="26" font-family="&quot;Liberation Sans&quot;, &quot;Noto Sans CJK SC&quot;, sans-serif" fill="#111" stroke="#111" stroke-width="0.4" stroke-linejoin="round" text-anchor="middle" >6</text>
<text x="664.5" y="380" font-size="28" font-family="&quot;Liberation Sans&quot;, &quot;Noto Sans CJK SC&quot;, sans-serif" fill="#111" stroke="#111" stroke-width="0.4" stroke-linejoin="round" text-anchor="middle" >1</text>
<text x="668" y="477.5" font-size="26.5" font-family="&quot;Liberation Sans&quot;, &quot;Noto Sans CJK SC&quot;, sans-serif" fill="#111" stroke="#111" stroke-width="0.4" stroke-linejoin="round" text-anchor="middle" >2</text>
<text x="668" y="567" font-size="27" font-family="&quot;Liberation Sans&quot;, &quot;Noto Sans CJK SC&quot;, sans-serif" fill="#111" stroke="#111" stroke-width="0.4" stroke-linejoin="round" text-anchor="middle" >3</text>
<text x="126.8" y="861.4" font-size="27" font-family="&quot;Liberation Sans&quot;, &quot;Noto Sans CJK SC&quot;, sans-serif" fill="#111" stroke="none" text-anchor="middle" font-weight="700" >7</text>
<text x="275.5" y="745" font-size="24.5" font-family="&quot;Liberation Sans&quot;, &quot;Noto Sans CJK SC&quot;, sans-serif" fill="#111" stroke="#111" stroke-width="0.4" stroke-linejoin="round" text-anchor="middle" >B</text>
<text x="485" y="745" font-size="24.5" font-family="&quot;Liberation Sans&quot;, &quot;Noto Sans CJK SC&quot;, sans-serif" fill="#111" stroke="#111" stroke-width="0.4" stroke-linejoin="round" text-anchor="middle" >C</text>
<text transform="translate(742 479.3) rotate(-90)" x="0" y="0" text-anchor="middle" font-size="24.5" font-family="&quot;Liberation Sans&quot;, sans-serif" fill="#111" stroke="#111" stroke-width="0.4">A</text>
<polyline points="168.5,253.8 191.5,253.8 319,441" stroke-width="1.34"/>
<polyline points="68.5,357.5 92,357.5 154,315" stroke-width="1.34"/>
<polyline points="56,468.6 76,468.6 137,424" stroke-width="1.34"/>
<polyline points="676,388.8 650,388.8 519,349.5" stroke-width="1.34"/>
<polyline points="676,483.8 651,483.8 505,519" stroke-width="1.34"/>
<polyline points="676,575 651,575 522,608" stroke-width="1.34"/>
<polyline points="113.5,870 136.5,870 316,1180" stroke-width="1.34"/>
<line x1="279" y1="285.6" x2="755" y2="285.6" stroke-width="2.44"/>
<line x1="279" y1="673.4" x2="756" y2="673.4" stroke-width="2.44"/>
<line x1="748.8" y1="286" x2="748.8" y2="673" stroke-width="2.07"/>
<polygon points="748.8,286 751.8,305.5 745.8,305.5" stroke-width="0.67" fill="#000"/>
<polygon points="748.8,672.5 745.8,653 751.8,653" stroke-width="0.67" fill="#000"/>
<line x1="169.8" y1="626" x2="169.8" y2="758.5" stroke-width="2.44"/>
<line x1="381.7" y1="692" x2="381.7" y2="758" stroke-width="2.44"/>
<line x1="587.2" y1="658" x2="587.2" y2="758" stroke-width="2.44"/>
<line x1="169.5" y1="751.6" x2="587.2" y2="751.6" stroke-width="2.2"/>
<polygon points="170,751.6 189.5,748.6 189.5,754.6" stroke-width="0.67" fill="#000"/>
<polygon points="381.2,751.6 361.7,754.6 361.7,748.6" stroke-width="0.67" fill="#000"/>
<polygon points="382.2,751.6 401.7,748.6 401.7,754.6" stroke-width="0.67" fill="#000"/>
<polygon points="586.8,751.6 567.3,754.6 567.3,748.6" stroke-width="0.67" fill="#000"/>
<line x1="61" y1="898.8" x2="386" y2="898.8" stroke-width="2.44"/>
<line x1="61" y1="1030" x2="91" y2="1030" stroke-width="2.44"/>
<line x1="61" y1="1248.6" x2="241" y2="1248.6" stroke-width="2.68"/>
<line x1="67.6" y1="899" x2="67.6" y2="1248" stroke-width="2.32"/>
<polygon points="67.6,899.5 70.6,918.5 64.6,918.5" stroke-width="0.67" fill="#000"/>
<polygon points="67.6,1029.5 64.6,1010.5 70.6,1010.5" stroke-width="0.67" fill="#000"/>
<polygon points="67.6,1030.5 70.6,1049.5 64.6,1049.5" stroke-width="0.67" fill="#000"/>
<polygon points="67.6,1248 64.6,1229 70.6,1229" stroke-width="0.67" fill="#000"/>
<clipPath id="clipL"><rect x="56" y="940" width="7" height="230"/></clipPath>
<g clip-path="url(#clipL)" font-family="&quot;Liberation Sans&quot;, sans-serif" font-size="22" fill="#111" stroke="#111" stroke-width="0.6"><text transform="translate(61.2 973.5) rotate(-90)">D</text><text transform="translate(61.2 1147.2) rotate(-90)">E</text></g>
</svg>
</body></html>
